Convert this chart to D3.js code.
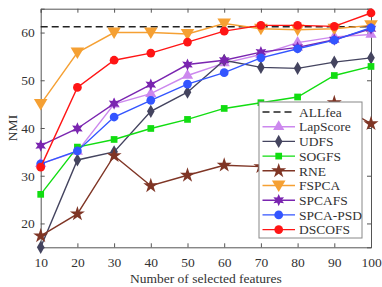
<html>
<head>
<script src="https://d3js.org/d3.v7.min.js"></script>
<style>
  body { margin: 0; background: white; }
  text { font-family: "Liberation Serif", "Times New Roman", serif; fill: #333; }
</style>
</head>
<body>
<svg id="chart" width="382" height="287"></svg>
<script>

// data
var features = [10, 20, 30, 40, 50, 60, 70, 80, 90, 100];
var yTicks = [20, 30, 40, 50, 60];
var allfea = 61.2;
var lapScore = [32.5, 35.1, 45.0, 47.2, 51.0, 53.6, 55.4, 57.9, 59.1, 59.6];
var udfs     = [15.0, 33.3, 35.0, 43.5, 47.5, 54.2, 52.7, 52.5, 53.8, 54.7];
var sogfs    = [26.1, 36.0, 37.6, 39.9, 41.8, 44.1, 45.3, 46.5, 51.0, 52.9];
var rne      = [17.4, 22.0, 34.2, 27.9, 30.1, 32.2, 31.9, 34.0, 45.3, 40.9];
var fspca    = [45.0, 55.8, 60.0, 60.0, 59.7, 61.9, 60.8, 60.6, 60.8, 61.5];
var spcafs   = [36.3, 39.9, 45.1, 49.1, 53.3, 54.2, 55.9, 56.9, 58.5, 60.8];
var spcaPsd  = [32.5, 35.2, 42.3, 45.8, 49.2, 51.6, 54.7, 56.6, 58.4, 61.0];
var dscofs   = [31.8, 48.5, 54.2, 55.7, 58.0, 60.3, 61.5, 61.5, 61.3, 64.1];

// custom marker shapes
var triDown = {
  draw: function(ctx, size) {
    var r = Math.sqrt(size / 1.3);
    ctx.moveTo(-r, -r * 0.75);
    ctx.lineTo(r, -r * 0.75);
    ctx.lineTo(0, r * 0.95);
    ctx.closePath();
  }
};
var hexagram = {
  draw: function(ctx, size) {
    var R = Math.sqrt(size / 1.6), r = R * 0.5;
    for (var i = 0; i < 12; i++) {
      var a = -Math.PI / 2 + i * Math.PI / 6;
      var rr = (i % 2 == 0) ? R : r;
      if (i == 0) ctx.moveTo(rr * Math.cos(a), rr * Math.sin(a));
      else ctx.lineTo(rr * Math.cos(a), rr * Math.sin(a));
    }
    ctx.closePath();
  }
};

var series = [
  {name: "LapScore", values: lapScore, color: "#cc88ee", shape: d3.symbolTriangle, size: 55},
  {name: "UDFS",     values: udfs,     color: "#44445f", shape: d3.symbolDiamond,  size: 50},
  {name: "SOGFS",    values: sogfs,    color: "#11dd11", shape: d3.symbolSquare,   size: 45},
  {name: "RNE",      values: rne,      color: "#7f3525", shape: d3.symbolStar,     size: 70},
  {name: "FSPCA",    values: fspca,    color: "#f5a033", shape: triDown,           size: 60},
  {name: "SPCAFS",   values: spcafs,   color: "#7a25b0", shape: hexagram,          size: 60},
  {name: "SPCA-PSD", values: spcaPsd,  color: "#3355ff", shape: d3.symbolCircle,   size: 60},
  {name: "DSCOFS",   values: dscofs,   color: "#ff1515", shape: d3.symbolCircle,   size: 60}
];

var svg = d3.select("#chart");
var mLeft = 40.7, mRight = 371, mTop = 8.7, mBottom = 247.3;
var serif = "Liberation Serif, Times New Roman, serif";

var x = d3.scaleLinear().domain([10, 100]).range([mLeft, mRight]);
var y = d3.scaleLinear().domain([15, 65]).range([mBottom, mTop]);

var axisColor = "#555";

// bottom axis (ticks inward)
var gx = svg.append("g")
  .attr("transform", "translate(0," + mBottom + ")")
  .call(d3.axisBottom(x).tickValues(features).tickSize(-4).tickPadding(8));
gx.attr("font-family", serif).attr("font-size", 13.5);
gx.selectAll("text").attr("dy", "0.85em");

// top axis
svg.append("g")
  .attr("transform", "translate(0," + mTop + ")")
  .call(d3.axisTop(x).tickValues(features).tickSize(-4).tickFormat(""));

// left axis
var gy = svg.append("g")
  .attr("transform", "translate(" + mLeft + ",0)")
  .call(d3.axisLeft(y).tickValues(yTicks).tickSize(-4).tickPadding(6));
gy.attr("font-family", serif).attr("font-size", 13.5);

// right axis
svg.append("g")
  .attr("transform", "translate(" + mRight + ",0)")
  .call(d3.axisRight(y).tickValues(yTicks).tickSize(-4).tickFormat(""));

svg.selectAll(".domain").attr("stroke", axisColor);
svg.selectAll(".tick line").attr("stroke", axisColor);

// axis titles
svg.append("text")
  .attr("x", (mLeft + mRight) / 2)
  .attr("y", 283)
  .attr("text-anchor", "middle")
  .style("font-size", "13.5px")
  .text("Number of selected features");

svg.append("text")
  .attr("transform", "translate(17," + ((mTop + mBottom) / 2) + ") rotate(-90)")
  .attr("text-anchor", "middle")
  .style("font-size", "13.5px")
  .text("NMI");

// ALLfea reference
svg.append("line")
  .attr("x1", x(10)).attr("x2", x(100))
  .attr("y1", y(allfea)).attr("y2", y(allfea))
  .attr("stroke", "#222")
  .attr("stroke-width", 1.5)
  .attr("stroke-dasharray", "7,4");

var line = d3.line()
  .x(function(d, i) { return x(features[i]); })
  .y(function(d) { return y(d); });

series.forEach(function(s) {
  var g = svg.append("g");
  g.append("path")
    .attr("d", line(s.values))
    .attr("fill", "none")
    .attr("stroke", s.color)
    .attr("stroke-width", 1.4);
  g.selectAll("path.mk")
    .data(s.values)
    .enter().append("path")
      .attr("class", "mk")
      .attr("transform", function(d, i) { return "translate(" + x(features[i]) + "," + y(d) + ")"; })
      .attr("d", d3.symbol().type(s.shape).size(s.size))
      .attr("fill", s.color);
});

// legend
var lx = 259, ly = 102, lw = 103, lh = 136;
var leg = svg.append("g");
leg.append("rect")
  .attr("x", lx).attr("y", ly).attr("width", lw).attr("height", lh)
  .attr("fill", "white").attr("stroke", "#888").attr("stroke-width", 1);

var legItems = [{name: "ALLfea", color: "#222", dash: true}].concat(series);
legItems.forEach(function(s, i) {
  var yy = 112 + i * 14.7;
  leg.append("line")
    .attr("x1", 262.5).attr("x2", 295)
    .attr("y1", yy).attr("y2", yy)
    .attr("stroke", s.color)
    .attr("stroke-width", s.dash ? 1.5 : 1.4)
    .attr("stroke-dasharray", s.dash ? "7,4" : null);
  if (!s.dash) {
    leg.append("path")
      .attr("transform", "translate(278.7," + yy + ")")
      .attr("d", d3.symbol().type(s.shape).size(s.size))
      .attr("fill", s.color);
  }
  leg.append("text")
    .attr("x", 299)
    .attr("y", yy)
    .attr("dy", "0.35em")
    .style("font-size", "13.5px")
    .text(s.name);
});

</script>
</body>
</html>
